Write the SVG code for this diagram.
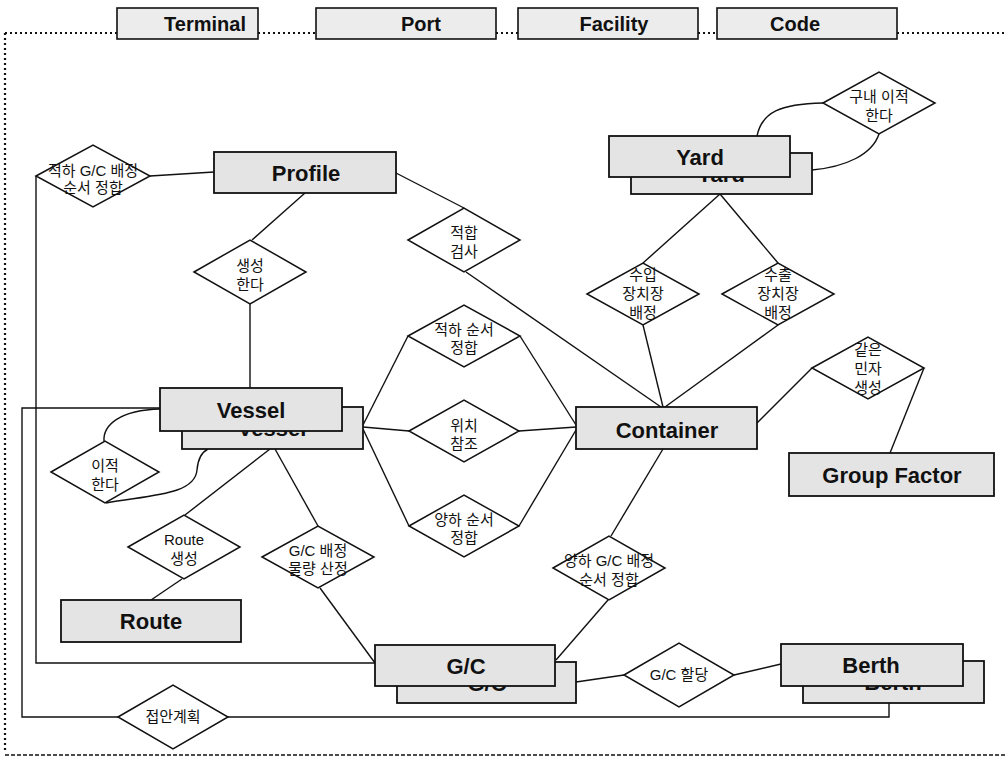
<svg xmlns="http://www.w3.org/2000/svg" width="1007" height="760" viewBox="0 0 1007 760">
<style>
.box{fill:#e4e4e4;stroke:#111;stroke-width:1.8}
.tbox{fill:#ececec;stroke:#111;stroke-width:1.6}
.dia{fill:#fff;stroke:#111;stroke-width:1.5}
.ln{fill:none;stroke:#111;stroke-width:1.4}
.dot{fill:none;stroke:#111;stroke-width:2.2;stroke-dasharray:2 3}
.dash{fill:none;stroke:#111;stroke-width:1.6;stroke-dasharray:4 2}
.bt{font-family:"Liberation Sans",Arial,sans-serif;font-weight:bold;font-size:22px;fill:#111;text-anchor:middle}
.tt{font-family:"Liberation Sans",Arial,sans-serif;font-weight:bold;font-size:20px;fill:#111;text-anchor:middle}
.kt{font-family:"Liberation Sans","Noto Sans CJK KR",sans-serif;font-size:15px;fill:#111;text-anchor:middle}
</style>
<rect width="1007" height="760" fill="#fff"/>
<g id="frame">
<path class="dot" d="M5 33 H117 M258 33 H316 M496 33 H518 M698 33 H717 M897 33 H1007 M5 33 V752"/>
<path class="dash" d="M5 755 H1007"/>
</g>
<g id="connectors">
<path class="ln" d="M150 176 L214 172"/>
<path class="ln" d="M36 176 V663 H375"/>
<path class="ln" d="M305 193 L252 240"/>
<path class="ln" d="M250 304 L250 388"/>
<path class="ln" d="M396 173 L464 208"/>
<path class="ln" d="M466 272 L661 407"/>
<path class="ln" d="M720 194 L643 263"/>
<path class="ln" d="M720 194 L778 263"/>
<path class="ln" d="M643 325 L663 407"/>
<path class="ln" d="M778 325 L665 407"/>
<path class="ln" d="M757 136 C762 112 780 104 823 103"/>
<path class="ln" d="M879 134 C872 155 845 167 812 170"/>
<path class="ln" d="M757 423 L812 368"/>
<path class="ln" d="M924 368 L890 453"/>
<path class="ln" d="M363 425 L408 336"/>
<path class="ln" d="M363 427 L409 431"/>
<path class="ln" d="M363 429 L409 526"/>
<path class="ln" d="M520 336 L576 425"/>
<path class="ln" d="M519 431 L576 427"/>
<path class="ln" d="M519 526 L576 430"/>
<path class="ln" d="M663 449 L611 536"/>
<path class="ln" d="M608 600 L556 660"/>
<path class="ln" d="M160 408 H22 V717 H889 V703"/>
<path class="ln" d="M104 441 C103 425 120 410 160 409"/>
<path class="ln" d="M106 503 C150 495 195 495 197 470 C198 458 202 452 208 449"/>
<path class="ln" d="M270 449 L185 515"/>
<path class="ln" d="M275 449 L318 526"/>
<path class="ln" d="M182 579 L151 600"/>
<path class="ln" d="M320 588 L375 663"/>
<path class="ln" d="M576 682 L624 675"/>
<path class="ln" d="M734 675 L781 664"/>
</g>
<g id="terminal"><rect class="tbox" x="117" y="8" width="141" height="31"/><text class="tt" x="205" y="31">Terminal</text></g>
<g id="port"><rect class="tbox" x="316" y="8" width="180" height="31"/><text class="tt" x="421" y="31">Port</text></g>
<g id="facility"><rect class="tbox" x="518" y="8" width="180" height="31"/><text class="tt" x="614" y="31">Facility</text></g>
<g id="code"><rect class="tbox" x="717" y="8" width="180" height="31"/><text class="tt" x="795" y="31">Code</text></g>
<g id="profile"><rect class="box" x="214" y="152" width="182" height="41"/><text class="bt" x="306" y="181">Profile</text></g>
<g id="yard"><rect class="box" x="631" y="153" width="181" height="41"/><text class="bt" x="721" y="182">Yard</text><rect class="box" x="609" y="136" width="181" height="41"/><text class="bt" x="700" y="165">Yard</text></g>
<g id="vessel"><rect class="box" x="182" y="407" width="181" height="42"/><text class="bt" x="272" y="436">Vessel</text><rect class="box" x="160" y="388" width="182" height="43"/><text class="bt" x="251" y="418">Vessel</text></g>
<g id="container"><rect class="box" x="576" y="407" width="181" height="42"/><text class="bt" x="667" y="438">Container</text></g>
<g id="groupfactor"><rect class="box" x="789" y="453" width="205" height="43"/><text class="bt" x="892" y="483">Group Factor</text></g>
<g id="route"><rect class="box" x="61" y="600" width="180" height="42"/><text class="bt" x="151" y="629">Route</text></g>
<g id="gc"><rect class="box" x="397" y="662" width="179" height="41"/><text class="bt" x="487" y="691">G/C</text><rect class="box" x="375" y="645" width="180" height="41"/><text class="bt" x="466" y="674">G/C</text></g>
<g id="berth"><rect class="box" x="803" y="661" width="181" height="42"/><text class="bt" x="893" y="690">Berth</text><rect class="box" x="781" y="644" width="182" height="42"/><text class="bt" x="871" y="673">Berth</text></g>
<g id="d-loadgc"><polygon class="dia" points="36,176 93,145 150,176 93,207"/><text class="kt" x="93" y="176">적하 G/C 배정</text><text class="kt" x="93" y="193">순서 정합</text></g>
<g id="d-create"><polygon class="dia" points="194,272 250,240 306,272 250,304"/><text class="kt" x="250" y="271">생성</text><text class="kt" x="250" y="290">한다</text></g>
<g id="d-fit"><polygon class="dia" points="408,240 464,208 520,240 464,272"/><text class="kt" x="464" y="238">적합</text><text class="kt" x="464" y="257">검사</text></g>
<g id="d-import"><polygon class="dia" points="587,294 643,263 699,294 643,325"/><text class="kt" x="643" y="280">수입</text><text class="kt" x="643" y="299">장치장</text><text class="kt" x="643" y="318">배정</text></g>
<g id="d-export"><polygon class="dia" points="722,294 778,263 834,294 778,325"/><text class="kt" x="778" y="280">수출</text><text class="kt" x="778" y="299">장치장</text><text class="kt" x="778" y="318">배정</text></g>
<g id="d-yardmove"><polygon class="dia" points="823,103 879,72 935,103 879,134"/><text class="kt" x="879" y="102">구내 이적</text><text class="kt" x="879" y="121">한다</text></g>
<g id="d-group"><polygon class="dia" points="812,368 868,337 924,368 868,399"/><text class="kt" x="868" y="355">같은</text><text class="kt" x="868" y="374">민자</text><text class="kt" x="868" y="393">생성</text></g>
<g id="d-loadseq"><polygon class="dia" points="408,336 464,305 520,336 464,367"/><text class="kt" x="464" y="335">적하 순서</text><text class="kt" x="464" y="353">정합</text></g>
<g id="d-pos"><polygon class="dia" points="409,431 464,400 519,431 464,462"/><text class="kt" x="464" y="431">위치</text><text class="kt" x="464" y="449">참조</text></g>
<g id="d-unloadseq"><polygon class="dia" points="409,526 464,495 519,526 464,557"/><text class="kt" x="464" y="525">양하 순서</text><text class="kt" x="464" y="543">정합</text></g>
<g id="d-unloadgc"><polygon class="dia" points="553,568 609,536 665,568 609,600"/><text class="kt" x="609" y="566">양하 G/C 배정</text><text class="kt" x="609" y="585">순서 정합</text></g>
<g id="d-move"><polygon class="dia" points="51,472 105,441 159,472 105,503"/><text class="kt" x="105" y="471">이적</text><text class="kt" x="105" y="490">한다</text></g>
<g id="d-route"><polygon class="dia" points="128,547 184,515 240,547 184,579"/><text class="kt" x="184" y="545">Route</text><text class="kt" x="184" y="564">생성</text></g>
<g id="d-gcqty"><polygon class="dia" points="262,557 318,526 374,557 318,588"/><text class="kt" x="318" y="556">G/C 배정</text><text class="kt" x="318" y="574">물량 산정</text></g>
<g id="d-gcassign"><polygon class="dia" points="624,675 679,643 734,675 679,707"/><text class="kt" x="679" y="680">G/C 할당</text></g>
<g id="d-berthplan"><polygon class="dia" points="118,717 173,685 228,717 173,749"/><text class="kt" x="173" y="722">접안계획</text></g>
</svg>
